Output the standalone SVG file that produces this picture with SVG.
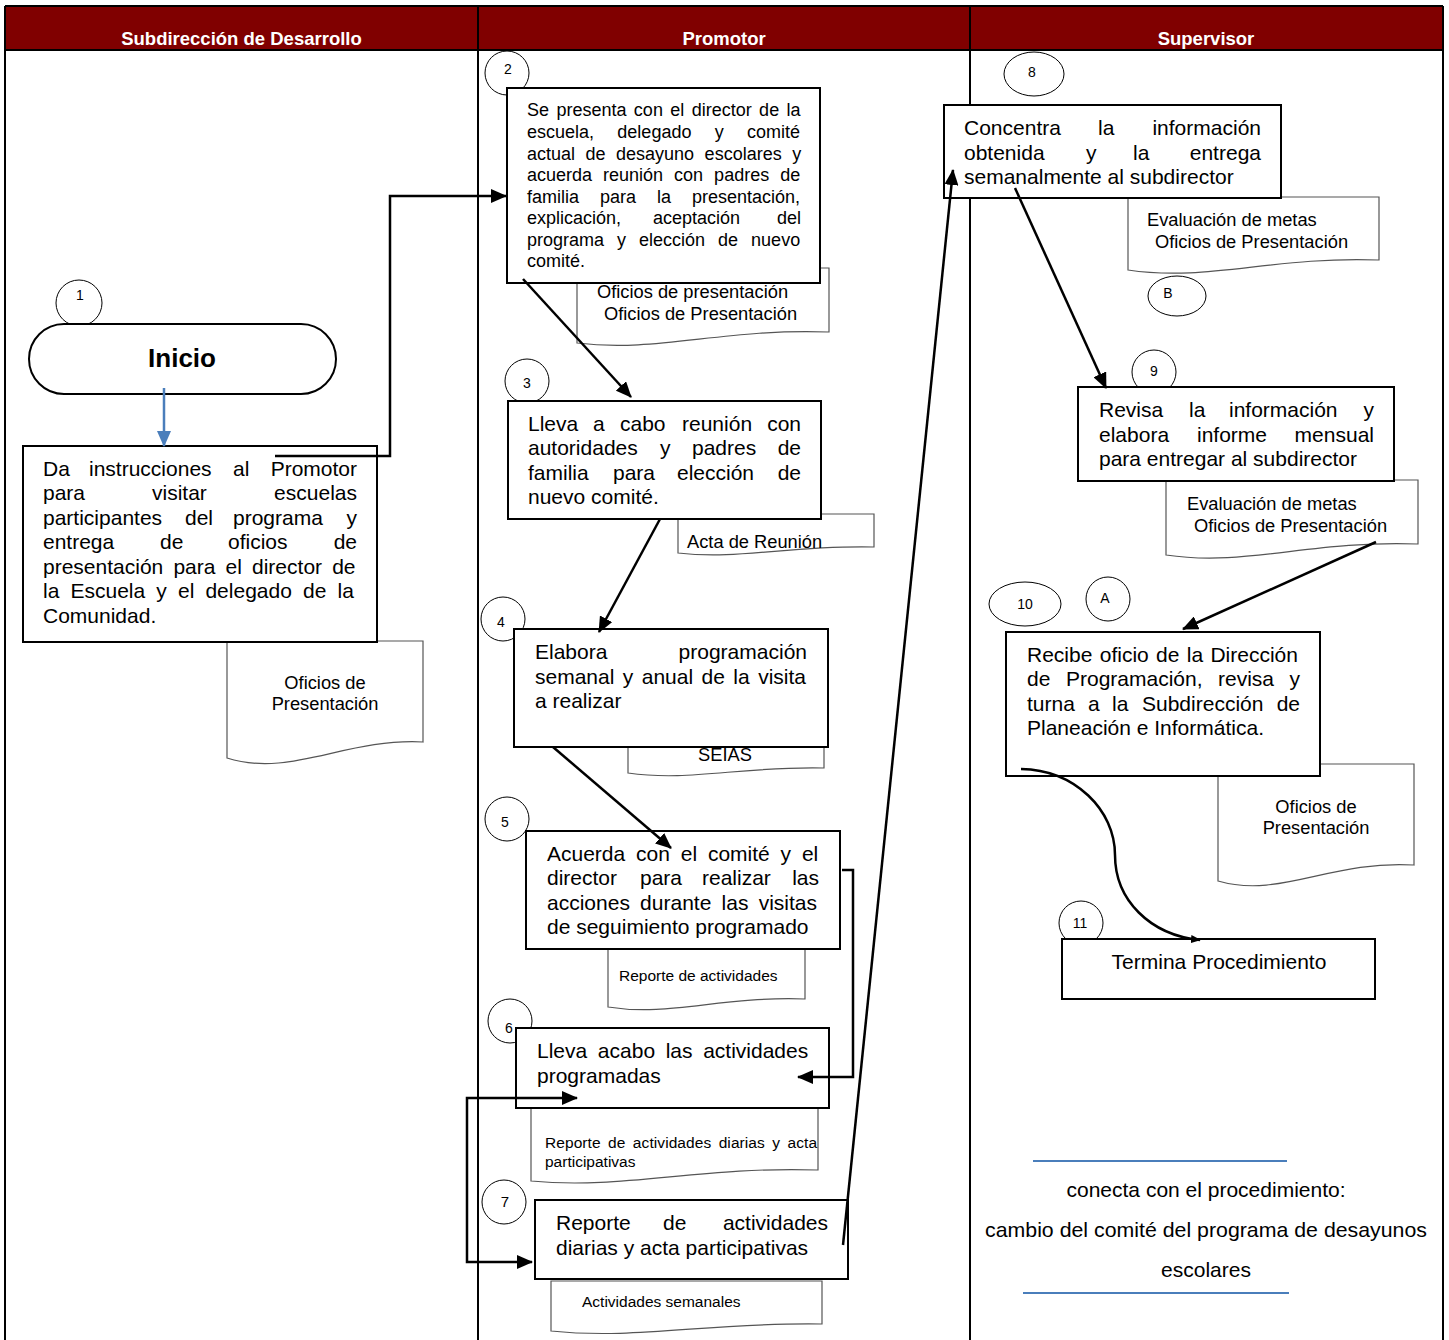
<svg xmlns="http://www.w3.org/2000/svg" width="1449" height="1340" viewBox="0 0 1449 1340">
  <defs>
    <marker id="ah" markerUnits="userSpaceOnUse" markerWidth="16" markerHeight="14" viewBox="0 0 16 14" refX="15" refY="7" orient="auto-start-reverse">
      <path d="M0,0 L16,7 L0,14 Z" fill="#000"/>
    </marker>
    <marker id="ahBlue" markerUnits="userSpaceOnUse" markerWidth="16" markerHeight="14" viewBox="0 0 16 14" refX="15" refY="7" orient="auto">
      <path d="M0,0 L16,7 L0,14 Z" fill="#4a7ebb"/>
    </marker>
    <marker id="ahSmall" markerUnits="userSpaceOnUse" markerWidth="10" markerHeight="8" viewBox="0 0 10 8" refX="9" refY="4" orient="auto">
      <path d="M0,0 L10,4 L0,8 Z" fill="#000"/>
    </marker>
  </defs>
  <style>
    text { font-family: "Liberation Sans", Arial, sans-serif; fill: #000; }
    .hdr { font-size: 18.5px; font-weight: bold; fill: #fff; text-anchor: middle; }
    .box { fill: #fff; stroke: #000; stroke-width: 2; }
    .doc { fill: #fff; stroke: #555; stroke-width: 1.2; }
    .num { fill: #fff; stroke: #000; stroke-width: 1; }
    .nt { font-size: 14px; text-anchor: middle; }
    .t21 { font-size: 21px; }
    .t18 { font-size: 18px; }
    .d18 { font-size: 18.3px; }
    .t16 { font-size: 15.5px; }
    .mid { text-anchor: middle; }
    .end { text-anchor: end; }
    .lane { stroke: #000; stroke-width: 2; fill: none; }
    .conn { stroke: #000; stroke-width: 2.5; fill: none; }
  </style>

  <rect width="1449" height="1340" fill="#fff"/>

  <!-- swimlane frame and header band -->
  <g id="lanes">
    <rect x="5" y="6" width="1438" height="44" fill="#800000"/>
    <line class="lane" x1="5" y1="6" x2="1443" y2="6"/>
    <line class="lane" x1="5" y1="50" x2="1443" y2="50"/>
    <line class="lane" x1="5" y1="6" x2="5" y2="1340"/>
    <line class="lane" x1="478" y1="6" x2="478" y2="1340"/>
    <line class="lane" x1="970" y1="6" x2="970" y2="1340"/>
    <line class="lane" x1="1443" y1="6" x2="1443" y2="1340"/>
    <text class="hdr" x="241.5" y="45">Subdirección de Desarrollo</text>
    <text class="hdr" x="724" y="45">Promotor</text>
    <text class="hdr" x="1206" y="45">Supervisor</text>
  </g>

  <!-- supporting documents (drawn beneath the activity boxes) -->
  <g id="doc1">
    <path class="doc" d="M227,641 H423 V742 C345,738 290,778 227,758 Z"/>
    <text class="d18 mid" x="325" y="689">Oficios de</text>
    <text class="d18 mid" x="325" y="710">Presentación</text>
  </g>
  <g id="doc2">
    <path class="doc" d="M577,268 H829 V332 C723,328 658,353 577,343 Z"/>
    <text class="d18" x="597" y="298">Oficios de presentación</text>
    <text class="d18" x="604" y="320">Oficios de Presentación</text>
  </g>
  <g id="doc3">
    <path class="doc" d="M678,514 H874 V547 C790,545 740,560 678,553 Z"/>
    <text class="d18" x="687" y="548">Acta de Reunión</text>
  </g>
  <g id="doc4">
    <path class="doc" d="M628,745 H824 V768 C740,766 690,782 628,773 Z"/>
    <text class="d18 mid" x="725" y="761">SEIAS</text>
  </g>
  <g id="doc5">
    <path class="doc" d="M608,949 H805 V999 C720,996 670,1017 608,1007 Z"/>
    <text class="t16" x="619" y="981">Reporte de actividades</text>
  </g>
  <g id="doc6">
    <path class="doc" d="M531,1108 H818 V1170 C700,1166 623,1190 531,1181 Z"/>
    <text class="t16" x="545" y="1148" textLength="272" lengthAdjust="spacing" word-spacing="3">Reporte de actividades diarias y acta</text>
    <text class="t16" x="545" y="1167">participativas</text>
  </g>
  <g id="doc7">
    <path class="doc" d="M551,1281 H822 V1324 C710,1322 637,1340 551,1331 Z"/>
    <text class="t16" x="582" y="1307">Actividades semanales</text>
  </g>
  <g id="doc8">
    <path class="doc" d="M1128,197 H1379 V260 C1273,256 1208,282 1128,270 Z"/>
    <text class="d18" x="1147" y="226">Evaluación de metas</text>
    <text class="d18" x="1155" y="248">Oficios de Presentación</text>
  </g>
  <g id="doc9">
    <path class="doc" d="M1166,480 H1418 V544 C1311,540 1246,567 1166,555 Z"/>
    <text class="d18" x="1187" y="510">Evaluación de metas</text>
    <text class="d18" x="1194" y="532">Oficios de Presentación</text>
  </g>
  <g id="doc10">
    <path class="doc" d="M1218,764 H1414 V865 C1330,860 1280,899 1218,881 Z"/>
    <text class="d18 mid" x="1316" y="813">Oficios de</text>
    <text class="d18 mid" x="1316" y="834">Presentación</text>
  </g>

  <!-- step number markers -->
  <g id="n1"><circle class="num" cx="79" cy="303" r="23"/><text class="nt" x="80" y="300">1</text></g>
  <g id="n2"><circle class="num" cx="507" cy="73" r="22"/><text class="nt" x="508" y="74">2</text></g>
  <g id="n3"><circle class="num" cx="527" cy="381" r="22"/><text class="nt" x="527" y="388">3</text></g>
  <g id="n4"><circle class="num" cx="503" cy="619" r="22"/><text class="nt" x="501" y="627">4</text></g>
  <g id="n5"><circle class="num" cx="507" cy="819" r="22"/><text class="nt" x="505" y="827">5</text></g>
  <g id="n6"><circle class="num" cx="510" cy="1021" r="22"/><text class="nt" x="509" y="1033">6</text></g>
  <g id="n7"><circle class="num" cx="504" cy="1202" r="22"/><text class="nt" x="505" y="1207" style="font-size:15px">7</text></g>
  <g id="n8"><ellipse class="num" cx="1034" cy="74" rx="30" ry="22"/><text class="nt" x="1032" y="77">8</text></g>
  <g id="nB"><ellipse class="num" cx="1177" cy="296" rx="29" ry="20"/><text class="nt" x="1168" y="298">B</text></g>
  <g id="n9"><circle class="num" cx="1154" cy="372" r="22"/><text class="nt" x="1154" y="376">9</text></g>
  <g id="n10"><ellipse class="num" cx="1025" cy="604" rx="36" ry="22"/><text class="nt" x="1025" y="609">10</text></g>
  <g id="nA"><circle class="num" cx="1108" cy="599" r="22"/><text class="nt" x="1105" y="603">A</text></g>
  <g id="n11"><circle class="num" cx="1081" cy="923" r="22"/><text class="nt" x="1080" y="928">11</text></g>

  <!-- start terminator -->
  <g id="inicio">
    <rect class="box" x="29" y="324" width="307" height="70" rx="35" ry="35"/>
    <text x="182" y="367" class="mid" style="font-size:26px;font-weight:bold">Inicio</text>
  </g>

  <!-- Subdirección de Desarrollo -->
  <g id="step1">
    <rect class="box" x="23" y="446" width="354" height="196"/>
    <text class="t21" y="476"><tspan x="43">Da</tspan><tspan x="89">instrucciones</tspan><tspan x="233">al</tspan><tspan x="357" text-anchor="end">Promotor</tspan></text>
    <text class="t21" y="500"><tspan x="43">para</tspan><tspan x="152">visitar</tspan><tspan x="357" text-anchor="end">escuelas</tspan></text>
    <text class="t21" y="525"><tspan x="43">participantes</tspan><tspan x="185">del</tspan><tspan x="233">programa</tspan><tspan x="357" text-anchor="end">y</tspan></text>
    <text class="t21" y="549"><tspan x="43">entrega</tspan><tspan x="160">de</tspan><tspan x="228">oficios</tspan><tspan x="357" text-anchor="end">de</tspan></text>
    <text class="t21" x="43" y="574" word-spacing="4.3">presentación para el director de</text>
    <text class="t21" x="43" y="598" word-spacing="5.3">la Escuela y el delegado de la</text>
    <text class="t21" x="43" y="623">Comunidad.</text>
  </g>

  <!-- Promotor -->
  <g id="step2">
    <rect class="box" x="507" y="88" width="313" height="195"/>
    <text class="t18" x="527" y="116" word-spacing="2.4">Se presenta con el director de la</text>
    <text class="t18" x="527" y="138" word-spacing="18.3">escuela, delegado y comité</text>
    <text class="t18" x="527" y="160" word-spacing="5.5">actual de desayuno escolares y</text>
    <text class="t18" x="527" y="181" word-spacing="6">acuerda reunión con padres de</text>
    <text class="t18" x="527" y="203" word-spacing="16">familia para la presentación,</text>
    <text class="t18" y="224"><tspan x="527">explicación,</tspan><tspan x="653">aceptación</tspan><tspan x="801" text-anchor="end">del</tspan></text>
    <text class="t18" x="527" y="246" word-spacing="8">programa y elección de nuevo</text>
    <text class="t18" x="527" y="267">comité.</text>
  </g>
  <g id="step3">
    <rect class="box" x="508" y="401" width="313" height="118"/>
    <text class="t21" y="431"><tspan x="528">Lleva</tspan><tspan x="593">a</tspan><tspan x="620">cabo</tspan><tspan x="682">reunión</tspan><tspan x="801" text-anchor="end">con</tspan></text>
    <text class="t21" y="455"><tspan x="528">autoridades</tspan><tspan x="660">y</tspan><tspan x="692">padres</tspan><tspan x="801" text-anchor="end">de</tspan></text>
    <text class="t21" y="480"><tspan x="528">familia</tspan><tspan x="613">para</tspan><tspan x="677">elección</tspan><tspan x="801" text-anchor="end">de</tspan></text>
    <text class="t21" x="528" y="504">nuevo comité.</text>
  </g>
  <g id="step4">
    <rect class="box" x="514" y="629" width="314" height="118"/>
    <text class="t21" y="659"><tspan x="535">Elabora</tspan><tspan x="807" text-anchor="end">programación</tspan></text>
    <text class="t21" x="535" y="684" word-spacing="2.6">semanal y anual de la visita</text>
    <text class="t21" x="535" y="708">a realizar</text>
  </g>
  <g id="step5">
    <rect class="box" x="526" y="831" width="314" height="118"/>
    <text class="t21" x="547" y="861" word-spacing="5">Acuerda con el comité y el</text>
    <text class="t21" y="885"><tspan x="547">director</tspan><tspan x="640">para</tspan><tspan x="702">realizar</tspan><tspan x="819" text-anchor="end">las</tspan></text>
    <text class="t21" x="547" y="910" word-spacing="4.4">acciones durante las visitas</text>
    <text class="t21" x="547" y="934">de seguimiento programado</text>
  </g>
  <g id="step6">
    <rect class="box" x="516" y="1028" width="313" height="80"/>
    <text class="t21" x="537" y="1058" word-spacing="4.8">Lleva acabo las actividades</text>
    <text class="t21" x="537" y="1083">programadas</text>
  </g>
  <g id="step7">
    <rect class="box" x="535" y="1200" width="313" height="79"/>
    <text class="t21" y="1230"><tspan x="556">Reporte</tspan><tspan x="663">de</tspan><tspan x="828" text-anchor="end">actividades</tspan></text>
    <text class="t21" x="556" y="1255">diarias y acta participativas</text>
  </g>

  <!-- Supervisor -->
  <g id="step8">
    <rect class="box" x="944" y="105" width="337" height="93"/>
    <text class="t21" y="135"><tspan x="964">Concentra</tspan><tspan x="1098">la</tspan><tspan x="1261" text-anchor="end">información</tspan></text>
    <text class="t21" y="160"><tspan x="964">obtenida</tspan><tspan x="1086">y</tspan><tspan x="1133">la</tspan><tspan x="1261" text-anchor="end">entrega</tspan></text>
    <text class="t21" x="964" y="184">semanalmente al subdirector</text>
  </g>
  <g id="step9">
    <rect class="box" x="1078" y="387" width="316" height="94"/>
    <text class="t21" y="417"><tspan x="1099">Revisa</tspan><tspan x="1189">la</tspan><tspan x="1229">información</tspan><tspan x="1374" text-anchor="end">y</tspan></text>
    <text class="t21" y="442"><tspan x="1099">elabora</tspan><tspan x="1197">informe</tspan><tspan x="1374" text-anchor="end">mensual</tspan></text>
    <text class="t21" x="1099" y="466">para entregar al subdirector</text>
  </g>
  <g id="step10">
    <rect class="box" x="1006" y="632" width="314" height="144"/>
    <text class="t21" x="1027" y="662" word-spacing="1.5">Recibe oficio de la Dirección</text>
    <text class="t21" y="686"><tspan x="1027">de</tspan><tspan x="1066">Programación,</tspan><tspan x="1218">revisa</tspan><tspan x="1300" text-anchor="end">y</tspan></text>
    <text class="t21" y="711"><tspan x="1027">turna</tspan><tspan x="1088">a</tspan><tspan x="1112">la</tspan><tspan x="1142">Subdirección</tspan><tspan x="1300" text-anchor="end">de</tspan></text>
    <text class="t21" x="1027" y="735">Planeación e Informática.</text>
  </g>
  <g id="step11">
    <rect class="box" x="1062" y="939" width="313" height="60"/>
    <text class="t21 mid" x="1219" y="969">Termina Procedimiento</text>
  </g>

  <!-- link to related procedure -->
  <g id="linkNote">
    <line x1="1033" y1="1161" x2="1287" y2="1161" stroke="#4a7ebb" stroke-width="2"/>
    <text class="mid" x="1206" y="1197" style="font-size:21px">conecta con el procedimiento:</text>
    <text class="mid" x="1206" y="1237" style="font-size:21px" textLength="442" lengthAdjust="spacingAndGlyphs">cambio del comité del programa de desayunos</text>
    <text class="mid" x="1206" y="1277" style="font-size:21px">escolares</text>
    <line x1="1023" y1="1293" x2="1289" y2="1293" stroke="#4a7ebb" stroke-width="2"/>
  </g>

  <!-- connectors -->
  <g id="connectors">
    <line x1="164" y1="388" x2="164" y2="446" stroke="#4a7ebb" stroke-width="2.5" marker-end="url(#ahBlue)"/>
    <path class="conn" d="M275,456 H390 V196 H506" marker-end="url(#ah)"/>
    <path class="conn" d="M523,279 L631,397" marker-end="url(#ah)"/>
    <path class="conn" d="M660,519 L599,632" marker-end="url(#ah)"/>
    <path class="conn" d="M553,747 L671,848" marker-end="url(#ah)"/>
    <path class="conn" d="M842,870 H853 V1077 H798" marker-end="url(#ah)"/>
    <path class="conn" d="M577,1098 H467 V1262 H532" marker-start="url(#ah)" marker-end="url(#ah)"/>
    <path class="conn" d="M843,1245 L953,170" marker-end="url(#ah)"/>
    <path class="conn" d="M1015,188 L1106,388" marker-end="url(#ah)"/>
    <path class="conn" d="M1376,542 L1183,629" marker-end="url(#ah)"/>
    <path class="conn" d="M1021,769 C1075,770 1115,810 1115,855 C1115,900 1150,935 1200,940" marker-end="url(#ahSmall)"/>
  </g>
</svg>
